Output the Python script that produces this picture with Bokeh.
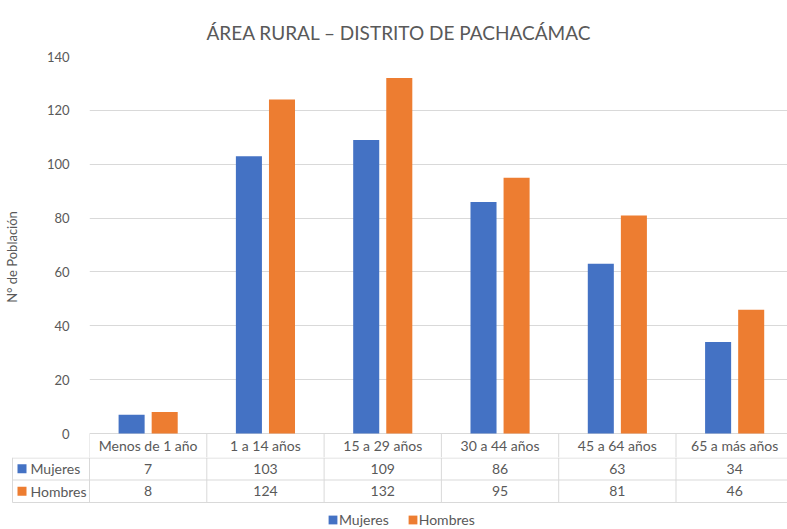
from bokeh.plotting import figure
from bokeh.models import Range1d, Legend, LegendItem, FixedTicker
from bokeh.embed import file_html
from bokeh.resources import INLINE
from bokeh.core.properties import value

categories = ["Menos de 1 año", "1 a 14 años", "15 a 29 años",
              "30 a 44 años", "45 a 64 años", "65 a más años"]
mujeres = [7, 103, 109, 86, 63, 34]
hombres = [8, 124, 132, 95, 81, 46]
y_ticks = [0, 20, 40, 60, 80, 100, 120, 140]
series = ["Mujeres", "Hombres"]
colors = ["#4472C4", "#ED7D31"]
title_text = "ÁREA RURAL – DISTRITO DE PACHACÁMAC"
y_label = "N° de Población"

W = 787
H = 529
FONT = "Lato"
TXT = "#595959"
GRID = "#d9d9d9"
LEFT = 89          # frame left edge (px)
COLW = 117.3       # category width (px)
PLOT_TOP = 56      # frame top (px)
ZERO_Y = 433       # y of value 0 (px)
HDR_H = 24         # header row height (px)
ROW_H = 22.5       # data row height (px)
TOP_H = ZERO_Y + HDR_H
TAB_H = H - TOP_H

ymax = 140
ppu = (ZERO_Y - PLOT_TOP) / ymax
ymin = -HDR_H / ppu
xmax = (W - LEFT) / COLW
xmin_tab = -LEFT / COLW
n = len(categories)
centers = [i + 0.5 for i in range(n)]
off = 0.141
bw = 0.222

p = figure(width=W, height=TOP_H, x_range=Range1d(0, xmax), y_range=Range1d(ymin, ymax),
           output_backend="svg", toolbar_location=None,
           min_border_left=LEFT, min_border_right=0, min_border_top=PLOT_TOP, min_border_bottom=0,
           x_axis_location=None)
p.outline_line_color = None
p.xgrid.visible = False
p.ygrid.grid_line_color = GRID
p.ygrid.ticker = FixedTicker(ticks=y_ticks)
p.yaxis.ticker = FixedTicker(ticks=y_ticks)
p.yaxis.axis_line_color = None
p.yaxis.major_tick_line_color = None
p.yaxis.minor_tick_line_color = None
p.yaxis.major_label_standoff = 14
p.yaxis.major_label_text_font = FONT
p.yaxis.major_label_text_font_size = "13px"
p.yaxis.major_label_text_color = TXT
p.yaxis.axis_label = y_label
p.yaxis.axis_label_text_font = FONT
p.yaxis.axis_label_text_font_size = "13px"
p.yaxis.axis_label_text_font_style = "normal"
p.yaxis.axis_label_text_color = TXT
p.yaxis.axis_label_standoff = 24

p.title.text = title_text
p.title.align = "left"
p.title.offset = 117
p.title.text_font = FONT
p.title.text_font_size = "19px"
p.title.text_font_style = "normal"
p.title.text_color = TXT
p.title.standoff = 26

p.vbar(x=[c - off for c in centers], top=mujeres, width=bw, color=colors[0], line_color=None)
p.vbar(x=[c + off for c in centers], top=hombres, width=bw, color=colors[1], line_color=None)

common = dict(text_font=value(FONT), text_font_size="14px", text_color=TXT, text_baseline="middle")

# header row of the data table (inside the chart frame, below 0)
p.segment(x0=list(range(n + 1)), y0=[0] * (n + 1), x1=list(range(n + 1)), y1=[ymin] * (n + 1),
          line_color=GRID, line_width=1)
p.text(x=centers, y=[ymin / 2] * n, text=categories, text_align="center", **common)

# data rows of the table
t = figure(width=W, height=TAB_H, x_range=Range1d(xmin_tab, xmax), y_range=Range1d(TAB_H, 0),
           output_backend="svg", toolbar_location=None,
           min_border_left=0, min_border_right=0, min_border_top=0, min_border_bottom=0,
           x_axis_location=None, y_axis_location=None)
t.outline_line_color = None
t.grid.visible = False

rows_y = [0.5, ROW_H, 2 * ROW_H]
label_x = (12 - LEFT) / COLW
t.segment(x0=[label_x] * 3, y0=rows_y, x1=[xmax] * 3, y1=rows_y, line_color=GRID, line_width=1)
t.segment(x0=list(range(n + 1)) + [label_x], y0=[0] * (n + 2),
          x1=list(range(n + 1)) + [label_x], y1=[rows_y[2]] * (n + 2),
          line_color=GRID, line_width=1)

r1_y = ROW_H / 2
r2_y = ROW_H * 1.5
t.text(x=centers, y=[r1_y] * n, text=[str(v) for v in mujeres], text_align="center", **common)
t.text(x=centers, y=[r2_y] * n, text=[str(v) for v in hombres], text_align="center", **common)
t.text(x=[(30 - LEFT) / COLW] * 2, y=[r1_y, r2_y], text=series, text_align="left", **common)
sq_x = (21.5 - LEFT) / COLW
rm = t.rect(x=[sq_x], y=[r1_y], width=9, height=9, width_units="screen", height_units="screen",
            fill_color=colors[0], line_color=None)
rh = t.rect(x=[sq_x], y=[r2_y], width=9, height=9, width_units="screen", height_units="screen",
            fill_color=colors[1], line_color=None)

legend = Legend(items=[LegendItem(label=series[0], renderers=[rm]),
                       LegendItem(label=series[1], renderers=[rh])],
                orientation="horizontal", location=(327, 1),
                glyph_width=11, glyph_height=11, label_height=14, label_standoff=1,
                spacing=18, padding=0, margin=0,
                label_text_font=FONT, label_text_font_size="14px", label_text_color=TXT,
                border_line_color=None, background_fill_alpha=0)
t.add_layout(legend)

open("out.html", "w").write(file_html([p, t], INLINE))
